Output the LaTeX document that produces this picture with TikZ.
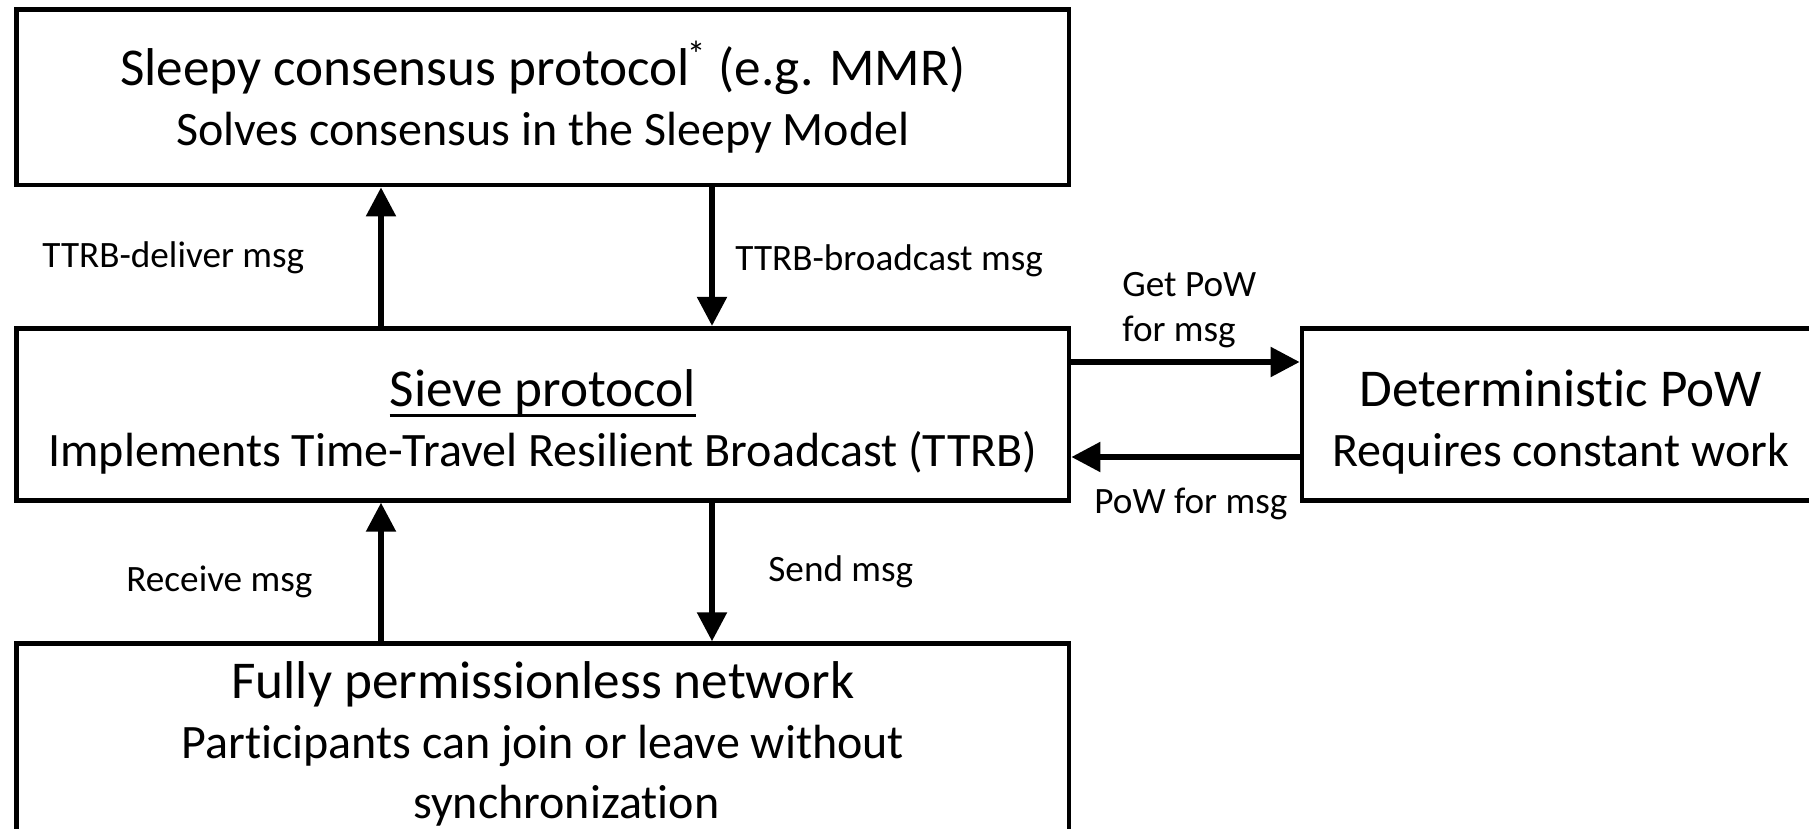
\documentclass[tikz,border=0pt]{standalone}
\usepackage{fontspec}
\setmainfont{Carlito}[Ligatures=NoCommon]
\usetikzlibrary{arrows.meta}
\begin{document}
\begin{tikzpicture}[x=0.5pt, y=-0.5pt,
  box/.style={draw, line width=2.4pt, inner sep=0pt, align=center,
    font=\fontsize{24}{30}\selectfont},
  lbl/.style={anchor=base west, inner sep=0pt, font=\fontsize{18.6}{22}\selectfont},
  arr/.style={line width=2.7pt, -{Triangle[length=14.5pt, width=14.5pt]}}]
\newcommand{\ttl}[1]{{\fontsize{26.6}{30}\selectfont #1}}
\newcommand{\ulbar}[1]{\setbox0\hbox{#1}\rlap{\rule[-5.2pt]{\wd0}{1.5pt}}\box0}

\useasboundingbox (0,0) rectangle (1809,829);
\clip (0,0) rectangle (1809,829);

% boxes
\node[box, minimum width=526.15pt, minimum height=87.65pt] (sleepy) at (542.85,97.35)
  {\ttl{Sleepy consensus protocol\textsuperscript{\kern-1.5pt*} (e.g. MMR)}\\Solves consensus in the Sleepy Model};
\node[box, minimum width=526.15pt, minimum height=86pt] (sieve) at (542.85,414.3)
  {\rule{0pt}{26pt}\ttl{\ulbar{Sieve protocol}}\\Implements Time-Travel Resilient Broadcast (TTRB)};
\node[box, minimum width=259pt, minimum height=86pt] (pow) at (1561,414.3)
  {\rule{0pt}{26pt}\ttl{Deterministic PoW}\\Requires constant work};
\node[box, minimum width=526.15pt, minimum height=100pt] (net) at (542.85,743.7)
  {\ttl{Fully permissionless network}\\Participants can join or leave without\\\hspace*{23.5pt}synchronization};

% connector guides
\coordinate (upx) at (381,0);
\coordinate (dnx) at (712,0);
\coordinate (r1) at (0,362);
\coordinate (r2) at (0,457);

% connectors
\draw[arr] (upx |- sieve.north) -- (upx |- sleepy.south);
\draw[arr] (dnx |- sleepy.south) -- (dnx |- sieve.north);
\draw[arr] (upx |- net.north) -- (upx |- sieve.south);
\draw[arr] (dnx |- sieve.south) -- (dnx |- net.north);
\draw[arr] (sieve.east |- r1) -- (pow.west |- r1);
\draw[arr] (pow.west |- r2) -- (sieve.east |- r2);

% labels
\node[lbl] (ldeliver) at (42,267) {TTRB-deliver msg};
\node[lbl] (lbroadcast) at (735,270) {TTRB-broadcast msg};
\node[lbl] (lgetpow) at (1122,296) {Get PoW};
\node[lbl] (lformsg) at (1122,341) {for msg};
\node[lbl] (lpowmsg) at (1094,513) {PoW for msg};
\node[lbl] (lreceive) at (126,591) {Receive msg};
\node[lbl] (lsend) at (768,581) {Send msg};
\end{tikzpicture}
\end{document}
